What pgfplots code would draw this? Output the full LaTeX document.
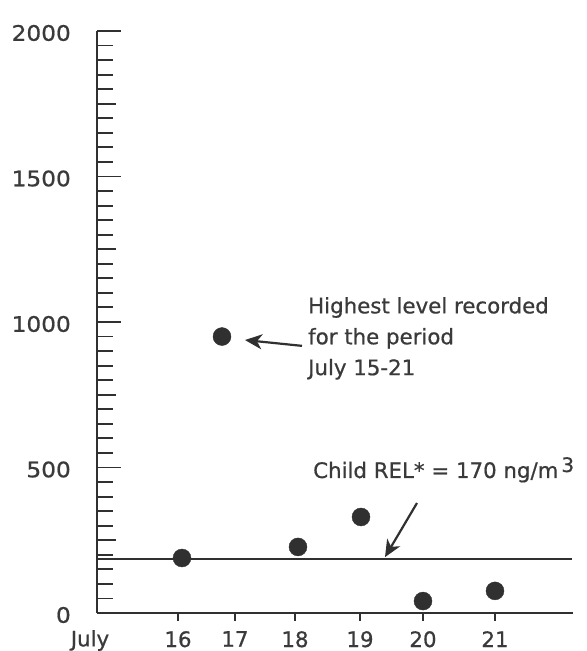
\documentclass[border=0pt]{standalone}
\usepackage{fontspec}
\setmainfont{DejaVu Sans}[FakeBold=0.7]
\usepackage{pgfplots}
\pgfplotsset{compat=1.18}
\usetikzlibrary{arrows.meta}
\definecolor{ink}{HTML}{303030}
\definecolor{txt}{HTML}{3A3A3A}
\newcommand\fs{\fontsize{21.4}{31}\selectfont}
\newcommand\wy[1]{\scalebox{1.09}[1]{#1}}
\begin{document}
\begin{tikzpicture}
\begin{axis}[
  at={(0,0)}, anchor=south west,
  scale only axis, width=476bp, height=582bp,
  xmin=97, xmax=573, ymin=0, ymax=2000,
  axis x line=bottom, axis y line=left,
  axis line style={ink, line width=2bp, -},
  clip=false,
  /pgf/number format/assume math mode=true,
  tick label style={font=\fs, text=txt},
  major tick style={ink, line width=1.9bp},
  minor tick style={ink, line width=1.9bp},
  xtick=\empty,
  extra x ticks={178,235,295,360,423,495},
  extra x tick labels={16,17,18,\raisebox{-3bp}{19},\raisebox{-5bp}{20},\raisebox{-5bp}{21}},
  extra x tick style={major tick length=8bp, xtick align=outside,
    xticklabel style={anchor=north, inner sep=0pt, yshift=-10bp}},
  ytick={0,500,1000,1500,2000},
  yticklabels={\wy{0}\hspace{9bp},\wy{500}\hspace{2bp},\wy{1000},\wy{1500},\wy{2000}},
  ytick align=inside,
  major tick length=24bp,
  minor y tick num=9,
  minor tick length=16bp,
  extra y ticks={250,750,1250,1750},
  extra y tick labels={},
  extra y tick style={major tick length=19bp, ytick align=inside},
  yticklabel style={anchor=east, inner sep=0pt, xshift=-26bp, yshift=-2bp},
]
\addplot[ink, line width=2bp, no marks] coordinates {(97,185) (572,185)};
\addplot[only marks, mark=*, mark size=9bp, mark options={fill=ink, draw=ink}] coordinates {
(182,189) (222,950) (298,227) (361,330) (423,41) (495,76)};
\node[anchor=north, inner sep=0pt, font=\fs, text=txt] at (axis cs:90,0) [yshift=-17bp] {July};
\node[anchor=north west, inner sep=0pt, align=left, font=\fs, text=txt] at (axis cs:308,1086) {Highest level recorded\\for the period\\July 15-21};
\node[anchor=base west, inner sep=0pt, font=\fs, text=txt] at (axis cs:313,464) {Child REL* = 170 ng/m\hspace{3bp}\raisebox{6bp}{\fontsize{20}{20}\selectfont 3}};
\draw[ink, line width=2.2bp, -{Stealth[length=17bp, width=15bp, inset=5bp]}] (axis cs:302,918) -- (axis cs:245,938);
\draw[ink, line width=2.2bp, -{Stealth[length=17bp, width=15bp, inset=5bp]}] (axis cs:417,378) -- (axis cs:385,192);
\end{axis}
\path[use as bounding box] (-97bp,-38bp) rectangle (490bp,613bp);
\end{tikzpicture}
\end{document}
